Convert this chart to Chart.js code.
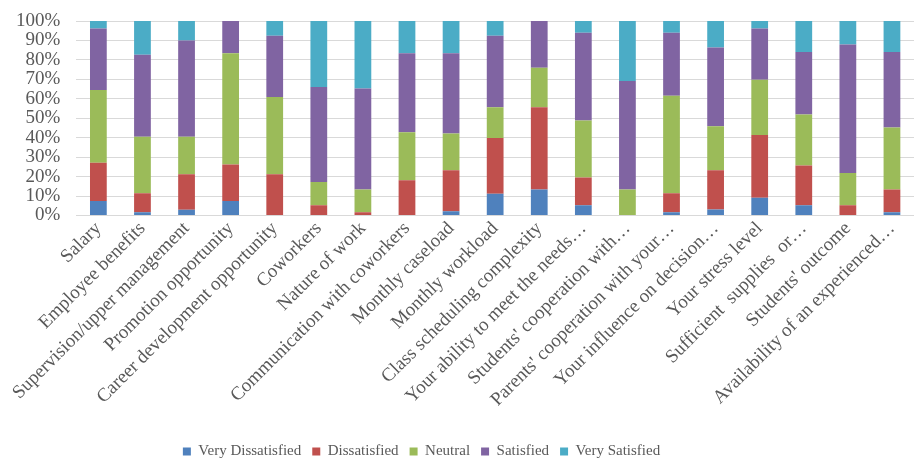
<!DOCTYPE html>
<html>
<head>
<meta charset="utf-8">
<script src="https://cdn.jsdelivr.net/npm/chart.js@4.4.1/dist/chart.umd.min.js"></script>
<style>
  html, body { margin: 0; padding: 0; background: #ffffff; overflow: hidden; }
  #wrap { position: relative; width: 914px; height: 459px; }
</style>
</head>
<body>
<div id="wrap"><canvas id="chart"></canvas></div>
<script>
// Survey items (x-axis categories)
const categories = [
  "Salary",
  "Employee benefits",
  "Supervision/upper management",
  "Promotion opportunity",
  "Career development opportunity",
  "Coworkers",
  "Nature of work",
  "Communication with coworkers",
  "Monthly caseload",
  "Monthly workload",
  "Class scheduling complexity",
  "Your ability to meet the needs\u2026",
  "Students' cooperation with\u2026",
  "Parents' cooperation with your\u2026",
  "Your influence on decision\u2026",
  "Your stress level",
  "Sufficient  supplies  or\u2026",
  "Students' outcome",
  "Availability of an experienced\u2026"
];

// Share of responses (%) per satisfaction level
const veryDissatisfied = [7.4, 1.7, 2.9, 7.4, 0, 0, 0, 0, 2.2, 11.2, 13.4, 5.3, 0, 1.7, 3.1, 9.1, 5.3, 0, 1.7];
const dissatisfied     = [19.7, 9.7, 18.3, 18.8, 21.2, 5.3, 1.7, 18.1, 21.1, 28.6, 42.3, 14.2, 0, 9.7, 20.2, 32.3, 20.4, 5.3, 11.7];
const neutral          = [37.4, 29.1, 19.3, 57.2, 39.7, 11.9, 11.7, 24.7, 18.8, 15.9, 20.2, 29.3, 13.4, 50.2, 22.6, 28.4, 26.2, 16.6, 31.8];
const satisfied        = [31.7, 42.1, 49.5, 16.6, 31.5, 48.8, 51.9, 40.6, 41.3, 36.7, 24.1, 45.2, 55.7, 32.4, 40.5, 26.4, 32.2, 66.0, 38.9];
const verySatisfied    = [3.8, 17.4, 10.0, 0, 7.6, 34.0, 34.7, 16.6, 16.6, 7.6, 0, 6.0, 30.9, 6.0, 13.6, 3.8, 15.9, 12.1, 15.9];

// Y-axis tick values
const yTicks = [0, 10, 20, 30, 40, 50, 60, 70, 80, 90, 100];

const seriesNames  = ["Very Dissatisfied", "Dissatisfied", "Neutral", "Satisfied", "Very Satisfied"];
const seriesData   = [veryDissatisfied, dissatisfied, neutral, satisfied, verySatisfied];
const seriesColors = ["#4F81BD", "#C0504D", "#9BBB59", "#8064A2", "#4BACC6"];

const serif = "'Liberation Serif', 'Times New Roman', serif";
const textColor = "#595959";

// Centres the legend on a narrower band and drops it closer to the bottom edge
const legendBand = {
  id: "legendBand",
  afterLayout(chart) {
    const lg = chart.legend;
    if (!lg) return;
    const w = 843;
    const dy = 20;
    lg.left = 0;
    lg.right = w;
    lg.width = w;
    lg.top += dy;
    lg.bottom += dy;
  }
};

new Chart(document.getElementById("chart"), {
  type: "bar",
  data: {
    labels: categories,
    datasets: seriesNames.map((name, i) => ({
      label: name,
      data: seriesData[i],
      backgroundColor: seriesColors[i],
      borderWidth: 0,
      barPercentage: 0.38,
      categoryPercentage: 1.0
    }))
  },
  options: {
    responsive: true,
    maintainAspectRatio: false,
    animation: false,
    layout: { padding: { left: 0, right: 0, top: 21, bottom: 10 } },
    plugins: {
      tooltip: { enabled: false },
      legend: {
        position: "bottom",
        align: "center",
        labels: {
          color: textColor,
          font: { family: serif, size: 15 },
          boxWidth: 8,
          boxHeight: 8,
          padding: 11
        }
      }
    },
    scales: {
      x: {
        stacked: true,
        grid: { display: false, drawTicks: false },
        border: { display: true, color: "#d9d9d9", width: 1 },
        afterFit(scale) {
          scale.paddingLeft = 0;
          scale.paddingRight = 0;
        },
        ticks: {
          color: textColor,
          font: { family: serif, size: 19 },
          minRotation: 45,
          maxRotation: 45,
          autoSkip: false,
          padding: 2
        }
      },
      y: {
        stacked: true,
        min: 0,
        max: 100,
        afterBuildTicks(axis) {
          axis.ticks = yTicks.map(v => ({ value: v }));
        },
        afterFit(scale) {
          scale.paddingTop = 0;
          scale.paddingBottom = 0;
        },
        grid: { color: "#d9d9d9", lineWidth: 1, drawTicks: false },
        border: { display: false },
        ticks: {
          color: textColor,
          font: { family: serif, size: 19 },
          padding: 16,
          autoSkip: false,
          callback: v => v + "%"
        }
      }
    }
  },
  plugins: [legendBand]
});
</script>
</body>
</html>
